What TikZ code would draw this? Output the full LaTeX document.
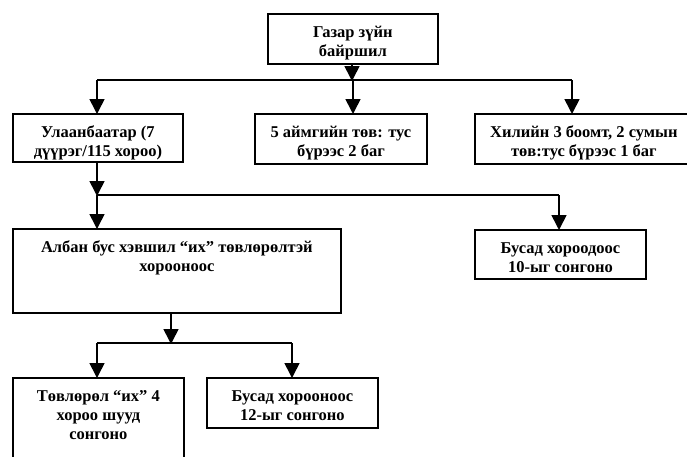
\documentclass[tikz,border=0pt]{standalone}
\usepackage{fontspec}
\setmainfont{Liberation Serif}
\usetikzlibrary{arrows.meta}
\tikzset{
  box/.style={draw, line width=1.8pt, fill=white, inner sep=0pt, rectangle, anchor=north west},
  txt/.style={anchor=north, align=center, inner sep=0pt, font=\bfseries\fontsize{16.5}{19}\selectfont},
  conn/.style={line width=1.6pt},
  arr/.style={conn, -{Triangle[width=15pt,length=15pt]}, shorten >=-1pt}
}
\newcommand{\btext}[3]{%
  \begin{scope}
    \clip ([xshift=0.9pt,yshift=-0.9pt]#1.north west) rectangle ([xshift=-0.9pt,yshift=0.9pt]#1.south east);
    \node[txt] (#2) at ([yshift=-9.5pt]#1.north) {\rule{0pt}{15pt}#3};
  \end{scope}}
\begin{document}
\begin{tikzpicture}[x=1pt,y=-1pt]
\useasboundingbox (0,0) rectangle (687,456);
\clip (0,0) rectangle (687,456);
% boxes
\node[box, minimum width=170pt, minimum height=50pt] (A) at (267,13) {};
\node[box, minimum width=170pt, minimum height=48pt] (B) at (12,113) {};
\node[box, minimum width=172pt, minimum height=50pt] (C) at (254,113) {};
\node[box, minimum width=218pt, minimum height=50pt] (D) at (474,113) {};
\node[box, minimum width=328pt, minimum height=84pt] (E) at (12,228) {};
\node[box, minimum width=171pt, minimum height=49pt] (F) at (474,229) {};
\node[box, minimum width=171pt, minimum height=100pt] (G) at (12,377) {};
\node[box, minimum width=171pt, minimum height=50pt] (H) at (206,377) {};
% texts
\btext{A}{tA}{Газар зүйн\\байршил}
\btext{B}{tB}{Улаанбаатар (7\\дүүрэг/115 хороо)}
\btext{C}{tC}{5 аймгийн төв: тус\\бүрээс 2 баг}
\btext{D}{tD}{Хилийн 3 боомт, 2 сумын\\төв:тус бүрээс 1 баг}
\btext{E}{tE}{Албан бус хэвшил “их” төвлөрөлтэй\\хорооноос}
\btext{F}{tF}{Бусад хороодоос\\10-ыг сонгоно}
\btext{G}{tG}{Төвлөрөл “их” 4\\хороо шууд\\сонгоно}
\btext{H}{tH}{Бусад хорооноос\\12-ыг сонгоно}
% junction coordinates
\coordinate (j1) at (352,80);
\coordinate (j1l) at (97,80);
\coordinate (j1m) at (353,80);
\coordinate (j1r) at (572,80);
\coordinate (j2) at (97,195);
\coordinate (j2r) at (559,195);
\coordinate (j3) at (171,343);
\coordinate (j3l) at (97,343);
\coordinate (j3r) at (292,343);
% connectors
\draw[conn] (j1l) -- (j1r);
\draw[arr] (A.south -| j1) -- (j1);
\draw[arr] (j1l) -- (B.north -| j1l);
\draw[arr] (j1m) -- (C.north -| j1m);
\draw[arr] (j1r) -- (D.north -| j1r);
\draw[conn] (j2) -- (j2r);
\draw[arr] (B.south -| j2) -- (j2);
\draw[arr] (j2) -- (E.north -| j2);
\draw[arr] (j2r) -- (F.north -| j2r);
\draw[conn] (j3l) -- (j3r);
\draw[arr] (E.south -| j3) -- (j3);
\draw[arr] (j3l) -- (G.north -| j3l);
\draw[arr] (j3r) -- (H.north -| j3r);
\end{tikzpicture}
\end{document}
